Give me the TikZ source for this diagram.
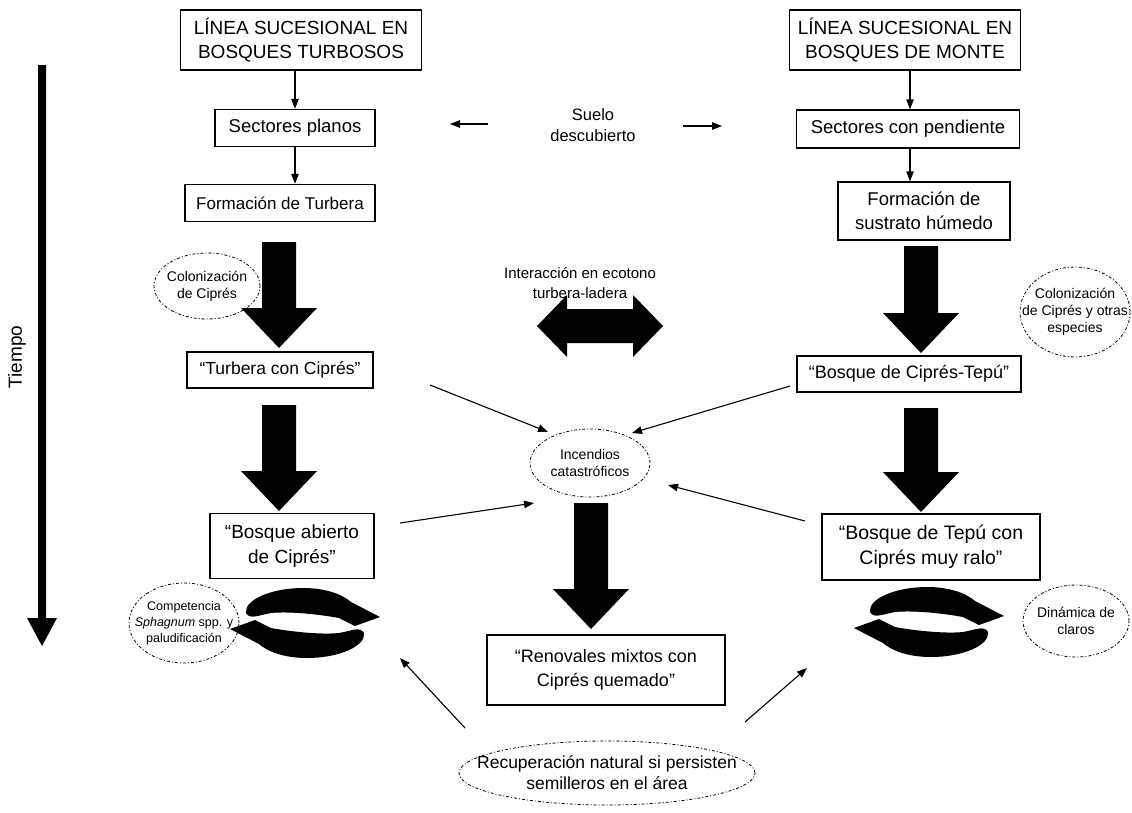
\documentclass[tikz,border=0pt]{standalone}
\usepackage{fontspec}
\setmainfont{Liberation Sans}
\usetikzlibrary{arrows.meta,shapes.geometric}
\newcommand\bigdn[3]{\fill (#1-17,#2) -- (#1+17,#2) -- (#1+17,#3-40) -- (#1+38,#3-40) -- (#1,#3) -- (#1-38,#3-40) -- (#1-17,#3-40) -- cycle;}
\newcommand\cychalf{(-34,-10) .. controls (-46,-8) and (-55,-3) .. (-59,-10) .. controls (-61,-23) and (-34,-35) .. (-2,-35) .. controls (22,-35) and (38,-28) .. (46,-21) -- (75,-6) -- (50,3) -- (34,-5) .. controls (18,-8) and (-14,-12) .. (-34,-10) -- cycle}
\newcommand\cycpic[2]{%
\begin{scope}[shift={(#1,#2)}]
\fill \cychalf;
\fill[rotate=180] \cychalf;
\end{scope}}
\newcommand\setfs[1]{\fontsize{#1}{\fpeval{#1*1.3}}\selectfont}
\begin{document}
\begin{tikzpicture}[x=1pt,y=-1pt,
  box/.style={draw, line width=1.4pt, align=center, inner sep=2pt},
  fs/.style={font=\setfs{#1}},
  oval/.style={ellipse, draw, line width=0.8pt, dash pattern=on 3pt off 2pt on 1pt off 2pt, inner sep=0pt},
  otext/.style={align=center, font=\fontsize{14}{17}\selectfont},
  lbl/.style={align=center},
  conn/.style={line width=1.1pt, -{Triangle[length=10pt,width=7.5pt]}}]
\useasboundingbox (0,0) rectangle (1132,812);
% boxes
\node[box, fs=19, minimum width=241pt, minimum height=60pt] (b1) at (301,40) {LÍNEA SUCESIONAL EN\\BOSQUES TURBOSOS};
\node[box, fs=19, minimum width=231pt, minimum height=60pt] (b2) at (905,40) {LÍNEA SUCESIONAL EN\\BOSQUES DE MONTE};
\node[box, fs=18.5, minimum width=160pt, minimum height=37pt] (planos) at (295,128) {Sectores planos};
\node[box, fs=18.5, minimum width=223pt, minimum height=38pt] (pend) at (908,129) {Sectores con pendiente};
\node[box, fs=17, minimum width=190pt, minimum height=37pt] (turb) at (280,203) {Formación de Turbera};
\node[box, fs=18.5, minimum width=172pt, minimum height=58pt] (sust) at (924,211) {Formación de\\sustrato húmedo};
\node[box, fs=17.5, minimum width=186pt, minimum height=36pt] (tcc) at (280,370) {“Turbera con Ciprés”};
\node[box, fs=18, minimum width=224pt, minimum height=36pt] (bct) at (909,374) {“Bosque de Ciprés-Tepú”};
\node[box, fs=19, minimum width=164pt, minimum height=65pt] (bab) at (292,546) {“Bosque abierto\\de Ciprés”};
\node[box, fs=19.5, minimum width=218pt, minimum height=66pt] (btr) at (931,547) {“Bosque de Tepú con\\Ciprés muy ralo”};
\node[box, fs=18, minimum width=238pt, minimum height=70pt] (ren) at (606,670) {“Renovales mixtos con\\Ciprés quemado”};
% labels
\node[lbl, fs=16.5] (suelo) at (593,125) {Suelo\\descubierto};
\node[lbl, fs=15] (inter) at (580,283) {Interacción en ecotono\\turbera-ladera};
\node[rotate=90, fs=19] (tiempo) at (17,357) {Tiempo};
% ovals
\node[oval, minimum width=106pt, minimum height=66pt] (col1) at (207,286) {};
\node[otext] (col1t) at (col1) {Colonización\\de Ciprés};
\node[oval, minimum width=110pt, minimum height=90pt] (col2) at (1075,312) {};
\node[otext] (col2t) at (col2) {Colonización\\de Ciprés y otras\\especies};
\node[oval, minimum width=120pt, minimum height=68pt] (inc) at (590,463) {};
\node[otext] (inct) at (inc) {Incendios\\catastróficos};
\node[oval, minimum width=110pt, minimum height=80pt] (comp) at (184,623) {};
\node[otext, font=\fontsize{12.5}{16}\selectfont] (compt) at (comp) {Competencia\\\textit{Sphagnum} spp. y\\paludificación};
\node[oval, minimum width=106pt, minimum height=72pt] (din) at (1076,621) {};
\node[otext] (dint) at (din) {Dinámica de\\claros};
\node[oval, minimum width=296pt, minimum height=64pt] (rec) at (607,773) {};
\node[otext, font=\fontsize{17.5}{21}\selectfont] (rect) at (rec) {Recuperación natural si persisten\\semilleros en el área};
% thin connectors
\draw[conn] (b1.south -| planos) -- (planos.north);
\draw[conn] (planos.south) -- (turb.north -| planos);
\coordinate (rc) at (910,0);
\draw[conn] (b2.south -| rc) -- (pend.north -| rc);
\draw[conn] (pend.south -| rc) -- (sust.north -| rc);
\coordinate (sl1) at (488,124); \coordinate (sl2) at (450,124);
\coordinate (sr1) at (683,126); \coordinate (sr2) at (722,126);
\draw[conn] (sl1) -- (sl2);
\draw[conn] (sr1) -- (sr2);
\coordinate (t1) at (430,385); \coordinate (t1e) at (548,432);
\coordinate (t2) at (790,386); \coordinate (t2e) at (632,433);
\coordinate (t3) at (400,523); \coordinate (t3e) at (534,503);
\coordinate (t4) at (805,521); \coordinate (t4e) at (668,485);
\coordinate (t5) at (465,728); \coordinate (t5e) at (400,658);
\coordinate (t6) at (745,722); \coordinate (t6e) at (807,668);
\draw[conn] (t1) -- (t1e);
\draw[conn] (t2) -- (t2e);
\draw[conn] (t3) -- (t3e);
\draw[conn] (t4) -- (t4e);
\draw[conn] (t5) -- (t5e);
\draw[conn] (t6) -- (t6e);
% thick arrows
\bigdn{279}{242}{348}
\bigdn{279}{405}{511}
\bigdn{921}{246}{353}
\bigdn{921}{408}{512}
\bigdn{591}{503}{629}
% double arrow
\fill (537,326) -- (567,295) -- (567,309) -- (633,309) -- (633,295) -- (663,326) -- (633,357) -- (633,343) -- (567,343) -- (567,357) -- cycle;
% time arrow
\fill (38,65) -- (46,65) -- (46,618) -- (57,618) -- (42,646) -- (27,618) -- (38,618) -- cycle;
% cycle arrows
\cycpic{305}{623}
\cycpic{929}{622}
\end{tikzpicture}
\end{document}
